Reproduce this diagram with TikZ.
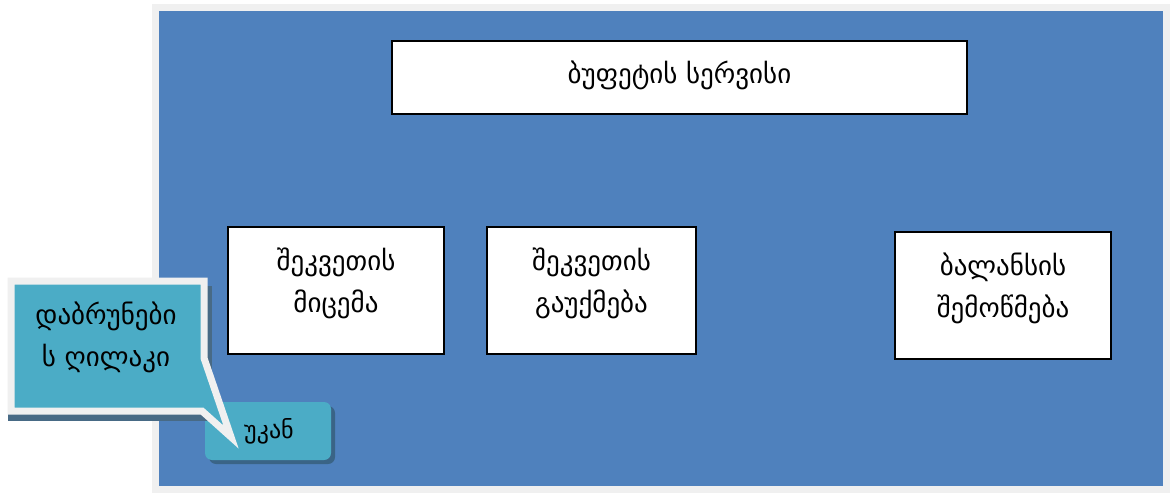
\documentclass[tikz,border=0pt]{standalone}
\usepackage{fontspec}
\newfontfamily\geo[Script=Georgian]{DejaVu Sans}
\definecolor{bgblue}{HTML}{4F81BD}
\definecolor{framegray}{HTML}{F0F0F0}
\definecolor{teal}{HTML}{4BACC6}
\definecolor{shadowc}{HTML}{3A6486}
\begin{document}
\begin{tikzpicture}[x=1pt,y=-1pt,
  box/.style={draw=black,line width=1.8pt,fill=white},
  lbl/.style={font=\geo\fontsize{27}{42}\selectfont,align=center,text=black}]
\useasboundingbox (0,0) rectangle (1170,495);
\fill[white] (0,0) rectangle (1170,495);
% frame and background
\fill[framegray] (152,4) rectangle (1170,493);
\fill[bgblue] (159,11) rectangle (1163,486);
% title
\draw[box] (392,41) rectangle (967,114);
\node[lbl] (title) at (679.5,75) {ბუფეტის სერვისი};
% boxes
\draw[box] (228,227) rectangle (444,354);
\node[lbl] (b1) at (336,283) {შეკვეთის\\მიცემა};
\draw[box] (487,227) rectangle (696,354);
\node[lbl] (b2) at (591.5,283) {შეკვეთის\\გაუქმება};
\draw[box] (895,232) rectangle (1111,359);
\node[lbl] (b3) at (1003,288) {ბალანსის\\შემოწმება};
% button
\fill[shadowc,rounded corners=7pt] (209,406) rectangle (335,464);
\fill[teal,rounded corners=7pt] (205,402) rectangle (331,460);
\node[lbl,font=\geo\fontsize{24}{36}\selectfont] (back) at (269,431) {უკან};
% callout
\fill[shadowc!80!gray] (8,286) rectangle (212,421);
\filldraw[draw=framegray,line width=7pt,fill=teal,line join=miter,miter limit=10]
  (11,281) -- (204,281) -- (204,358) -- (231,437) -- (202,411) -- (11,411) -- cycle;
\node[lbl] (call) at (106,337) {დაბრუნები\\ს ღილაკი};
\end{tikzpicture}
\end{document}
